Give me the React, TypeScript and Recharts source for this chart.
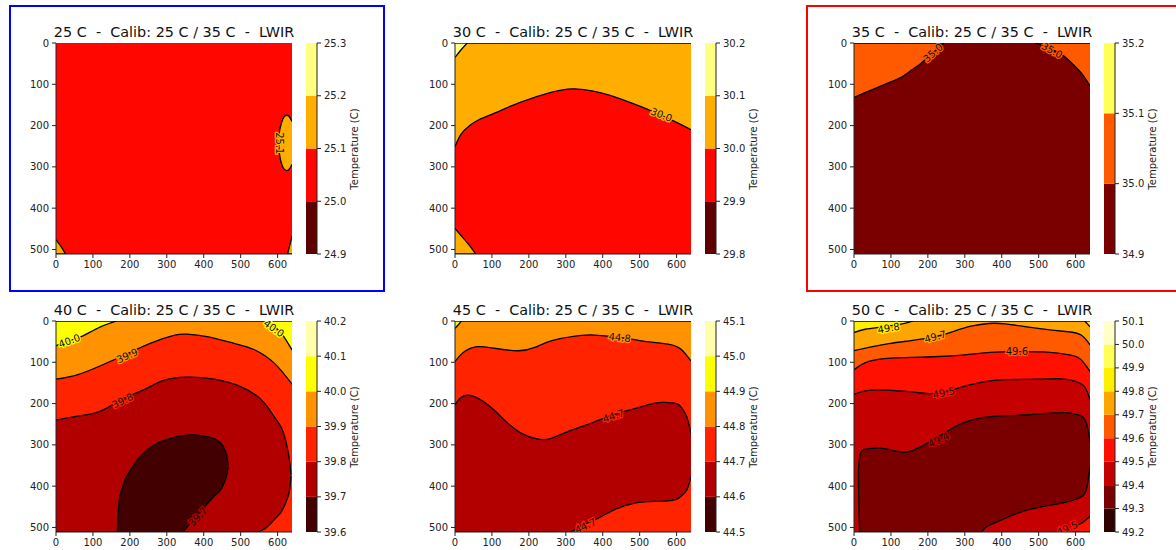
import React from 'react';
import { ComposedChart, Area, Line, Scatter, XAxis, YAxis } from 'recharts';

// [x, top row, bottom row] in image pixels; the image is 640 x 512
type Row = [number, number, number];
type Tag = { x: number; y: number; level: number; angle: number };

const FONT = '"DejaVu Sans", Verdana, sans-serif';
const INK = '#222';

const xTicks = [0, 100, 200, 300, 400, 500, 600];
const yTicks = [0, 100, 200, 300, 400, 500];
const wholeImage: Row[] = [[0, 0, 511], [639, 0, 511]];

// ---- 25 C ----
const levels25 = [24.9, 25.0, 25.1, 25.2, 25.3];
const warm25Spot: Row[] = [[603, 242, 242], [605, 216, 268], [609, 198, 287], [615, 183, 302], [620, 177, 307], [625, 175, 309], [630, 177, 307], [635, 183, 301], [639, 190, 294]];
const warm25CornerL: Row[] = [[0, 476, 511], [9, 487, 511], [18, 499, 511], [26, 511, 511]];
const warm25CornerR: Row[] = [[627, 511, 511], [633, 490, 511], [639, 468, 511]];
const tags25: Tag[] = [{ x: 605, y: 243, level: 25.1, angle: 90 }];

// ---- 30 C ----
const levels30 = [29.8, 29.9, 30.0, 30.1, 30.2];
const above300: Row[] = [[0, 0, 251], [17, 0, 220], [40, 0, 200], [62, 0, 187], [107, 0, 170], [150, 0, 153], [198, 0, 137], [250, 0, 122], [288, 0, 114], [324, 0, 111], [378, 0, 117], [420, 0, 127], [468, 0, 142], [520, 0, 160], [560, 0, 176], [604, 0, 194], [639, 0, 210]];
const above301: Row[] = [[0, 0, 35], [16, 0, 17], [33, 0, 0]];
const above300Corner: Row[] = [[0, 449, 511], [20, 470, 511], [40, 491, 511], [56, 511, 511]];
const tags30: Tag[] = [{ x: 559, y: 174, level: 30.0, angle: 22 }];

// ---- 35 C ----
const levels35 = [34.9, 35.0, 35.1, 35.2];
const above350L: Row[] = [[0, 0, 132], [25, 0, 122], [50, 0, 113], [103, 0, 93], [130, 0, 82], [157, 0, 65], [180, 0, 50], [198, 0, 36], [222, 0, 17], [243, 0, 0]];
const above350R: Row[] = [[491, 0, 0], [510, 0, 6], [530, 0, 14], [563, 0, 28], [599, 0, 57], [620, 0, 78], [639, 0, 104]];
const tags35: Tag[] = [{ x: 214, y: 24, level: 35.0, angle: -42 }, { x: 536, y: 18, level: 35.0, angle: 28 }];

// ---- 40 C ----
const levels40 = [39.6, 39.7, 39.8, 39.9, 40.0, 40.1, 40.2];
const below398: Row[] = [[0, 240, 511], [55, 231, 511], [119, 219, 511], [178, 190, 511], [237, 167, 511], [291, 144, 511], [355, 136, 511], [428, 141, 511], [500, 159, 511], [545, 182, 511], [555, 190, 508], [570, 205, 500], [591, 232, 481], [610, 258, 462], [622, 290, 440], [630, 325, 420], [634, 350, 398], [636, 372, 376]];
const below397: Row[] = [[166, 511, 511], [168, 470, 511], [173, 425, 511], [182, 398, 511], [191, 377, 511], [210, 350, 511], [228, 328, 511], [250, 310, 511], [273, 296, 511], [300, 287, 511], [328, 280, 511], [341, 278, 511], [350, 277, 504], [373, 276, 480], [400, 279, 453], [427, 284, 425], [445, 295, 410], [455, 308, 393], [462, 325, 375], [466, 350, 352]];
const above399: Row[] = [[0, 0, 141], [55, 0, 131], [119, 0, 109], [191, 0, 80], [255, 0, 54], [319, 0, 35], [355, 0, 32], [409, 0, 38], [482, 0, 54], [536, 0, 69], [591, 0, 102], [639, 0, 153]];
const above400L: Row[] = [[0, 0, 60], [40, 0, 47], [73, 0, 36], [119, 0, 15], [164, 0, 0]];
const above400R: Row[] = [[562, 0, 0], [590, 0, 13], [614, 0, 34], [639, 0, 70]];
const tags40: Tag[] = [
  { x: 36, y: 48, level: 40.0, angle: -20 },
  { x: 193, y: 84, level: 39.9, angle: -24 },
  { x: 180, y: 193, level: 39.8, angle: -26 },
  { x: 384, y: 474, level: 39.7, angle: -46 },
  { x: 590, y: 18, level: 40.0, angle: 36 },
];

// ---- 45 C ----
const levels45 = [44.5, 44.6, 44.7, 44.8, 44.9, 45.0, 45.1];
const below447: Row[] = [[0, 203, 511], [17, 185, 511], [44, 181, 511], [89, 203, 511], [134, 240, 511], [180, 272, 511], [225, 286, 511], [261, 284, 511], [310, 266, 511], [342, 256, 496], [378, 244, 482], [432, 226, 457], [487, 212, 441], [541, 199, 437], [568, 197, 436], [595, 199, 433], [610, 206, 426], [624, 225, 414], [632, 245, 400], [639, 272, 377]];
const above448: Row[] = [[0, 0, 98], [26, 0, 74], [62, 0, 62], [107, 0, 66], [171, 0, 72], [216, 0, 64], [270, 0, 46], [342, 0, 35], [378, 0, 34], [441, 0, 39], [504, 0, 48], [577, 0, 56], [613, 0, 69], [639, 0, 97]];
const above449: Row[] = [[0, 0, 18], [9, 0, 9], [17, 0, 0]];
const tags45: Tag[] = [
  { x: 446, y: 40, level: 44.8, angle: 7 },
  { x: 429, y: 230, level: 44.7, angle: -18 },
  { x: 353, y: 496, level: 44.7, angle: -25 },
];

// ---- 50 C ----
const levels50 = [49.2, 49.3, 49.4, 49.5, 49.6, 49.7, 49.8, 49.9, 50.0, 50.1];
const below494: Row[] = [[12, 360, 511], [15, 330, 511], [22, 314, 511], [40, 309, 511], [67, 308, 511], [100, 312, 511], [139, 318, 511], [180, 305, 511], [229, 280, 511], [292, 248, 511], [342, 235, 511], [356, 233, 500], [401, 230, 481], [473, 227, 457], [563, 222, 441], [600, 226, 432], [617, 231, 425], [630, 250, 405], [639, 290, 352]];
const below494Edge = [{ x: 12, y: 360 }, { x: 13, y: 440 }, { x: 16, y: 511 }];
const above495: Row[] = [[0, 0, 178], [40, 0, 168], [100, 0, 168], [160, 0, 172], [200, 0, 176], [243, 0, 172], [300, 0, 158], [360, 0, 146], [420, 0, 142], [500, 0, 141], [560, 0, 140], [600, 0, 146], [625, 0, 160], [639, 0, 190]];
const above495Corner: Row[] = [[586, 511, 511], [600, 498, 511], [620, 487, 511], [639, 473, 511]];
const above496: Row[] = [[0, 0, 118], [40, 0, 98], [100, 0, 90], [160, 0, 88], [230, 0, 86], [300, 0, 82], [370, 0, 76], [441, 0, 74], [510, 0, 75], [570, 0, 80], [610, 0, 90], [639, 0, 122]];
const above497: Row[] = [[0, 0, 72], [40, 0, 64], [94, 0, 55], [150, 0, 48], [220, 0, 38], [274, 0, 24], [320, 0, 12], [365, 0, 6], [410, 0, 7], [473, 0, 15], [536, 0, 22], [580, 0, 26], [615, 0, 34], [639, 0, 58]];
const above498L: Row[] = [[0, 0, 28], [30, 0, 20], [70, 0, 15], [110, 0, 10], [140, 0, 5], [160, 0, 0]];
const above498R: Row[] = [[625, 0, 0], [632, 0, 7], [639, 0, 14]];
const tags50: Tag[] = [
  { x: 94, y: 17, level: 49.8, angle: -10 },
  { x: 220, y: 38, level: 49.7, angle: -15 },
  { x: 441, y: 74, level: 49.6, angle: 0 },
  { x: 243, y: 174, level: 49.5, angle: -12 },
  { x: 229, y: 288, level: 49.4, angle: -25 },
  { x: 577, y: 502, level: 49.5, angle: -25 },
];

// plot-area corners on the page
const COLS = [56, 455, 854];
const ROWS = [43, 321];
const PLOT_W = 236;
const PLOT_H = 211;
const AXIS_W = 45;

type Panel = {
  title: string;
  col: number;
  row: number;
  levels: number[];
  base: number;
  frame?: string;
  regions: [number, Row[]][];
  edges?: { x: number; y: number }[][];
  tags: Tag[];
};

const panels: Panel[] = [
  { title: '25 C  -  Calib: 25 C / 35 C  -  LWIR', col: 0, row: 0, levels: levels25, base: 1, frame: '#0000ff',
    regions: [[2, warm25Spot], [2, warm25CornerL], [2, warm25CornerR]], tags: tags25 },
  { title: '30 C  -  Calib: 25 C / 35 C  -  LWIR', col: 1, row: 0, levels: levels30, base: 1,
    regions: [[2, above300], [3, above301], [2, above300Corner]], tags: tags30 },
  { title: '35 C  -  Calib: 25 C / 35 C  -  LWIR', col: 2, row: 0, levels: levels35, base: 0, frame: '#ff0000',
    regions: [[1, above350L], [1, above350R]], tags: tags35 },
  { title: '40 C  -  Calib: 25 C / 35 C  -  LWIR', col: 0, row: 1, levels: levels40, base: 2,
    regions: [[1, below398], [0, below397], [3, above399], [4, above400L], [4, above400R]], tags: tags40 },
  { title: '45 C  -  Calib: 25 C / 35 C  -  LWIR', col: 1, row: 1, levels: levels45, base: 2,
    regions: [[3, above448], [4, above449], [1, below447]], tags: tags45 },
  { title: '50 C  -  Calib: 25 C / 35 C  -  LWIR', col: 2, row: 1, levels: levels50, base: 2,
    regions: [[3, above495], [3, above495Corner], [4, above496], [5, above497], [6, above498L], [6, above498R], [1, below494]],
    edges: [below494Edge], tags: tags50 },
];

// matplotlib "hot" colormap
function hot(t: number) {
  const r = t < 0.365079 ? 0.0416 + (0.9584 * t) / 0.365079 : 1;
  const g = t < 0.365079 ? 0 : t < 0.746032 ? (t - 0.365079) / 0.380953 : 1;
  const b = t < 0.746032 ? 0 : (t - 0.746032) / 0.253968;
  const h = (v: number) => Math.round(Math.min(1, Math.max(0, v)) * 255).toString(16).padStart(2, '0');
  return `#${h(r)}${h(g)}${h(b)}`;
}

const bandColors = (levels: number[]) => {
  const n = levels.length - 1;
  return levels.slice(0, n).map((_, i) => hot((i + 0.5) / n));
};

const toArea = (rows: Row[]) => rows.map(([x, y0, y1]) => ({ x, v: [y0, y1] }));

const tickStyle = { fill: INK, fontSize: 10, fontFamily: FONT };

// inline contour label; the halo cuts the contour line under the text
const tagShape = (levels: number[], colors: string[]) => (props: any) => {
  const { cx, cy, payload } = props;
  const k = levels.findIndex((l) => Math.abs(l - payload.level) < 1e-6);
  const halo = colors[Math.min(colors.length - 1, Math.max(0, k))];
  return (
    <text
      x={cx}
      y={cy}
      transform={`rotate(${payload.angle} ${cx} ${cy})`}
      textAnchor="middle"
      dominantBaseline="central"
      fontFamily={FONT}
      fontSize={10}
      fill="#111"
      stroke={halo}
      strokeWidth={2.5}
      style={{ paintOrder: 'stroke' }}
    >
      {payload.level.toFixed(1)}
    </text>
  );
};

function ContourPlot({ p }: { p: Panel }) {
  const colors = bandColors(p.levels);
  const left = COLS[p.col];
  const top = ROWS[p.row];
  return (
    <div style={{ position: 'absolute', left: left - AXIS_W, top: top - 5 }}>
      <ComposedChart width={AXIS_W + PLOT_W + 5} height={PLOT_H + 35} margin={{ top: 5, right: 5, bottom: 0, left: 0 }}>
        <Area data={toArea(wholeImage)} dataKey="v" type="linear" fill={colors[p.base]} fillOpacity={1} stroke="none" isAnimationActive={false} />
        {p.regions.map(([band, rows], i) => (
          <Area
            key={i}
            data={toArea(rows)}
            dataKey="v"
            type="natural"
            fill={colors[band]}
            fillOpacity={1}
            stroke="#000"
            strokeWidth={1.3}
            isAnimationActive={false}
          />
        ))}
        {(p.edges || []).map((pts, i) => (
          <Line key={`e${i}`} data={pts} dataKey="y" type="natural" stroke="#000" strokeWidth={1.3} dot={false} isAnimationActive={false} />
        ))}
        <Scatter data={p.tags} dataKey="y" shape={tagShape(p.levels, colors)} isAnimationActive={false} />
        <XAxis dataKey="x" type="number" domain={[0, 639]} ticks={xTicks} interval={0} allowDataOverflow height={30}
          tickSize={4} tickMargin={3} stroke={INK} tick={tickStyle} />
        <YAxis type="number" domain={[0, 511]} reversed ticks={yTicks} interval={0} allowDataOverflow width={AXIS_W}
          tickSize={4} tickMargin={3} stroke={INK} tick={tickStyle} />
        <XAxis xAxisId="top" orientation="top" type="number" domain={[0, 639]} allowDataOverflow height={0}
          tick={false} tickLine={false} stroke={INK} />
        <YAxis yAxisId="right" orientation="right" type="number" domain={[0, 511]} allowDataOverflow width={0}
          tick={false} tickLine={false} stroke={INK} />
      </ComposedChart>
    </div>
  );
}

function ColorBar({ p }: { p: Panel }) {
  const colors = bandColors(p.levels);
  const lo = p.levels[0];
  const hi = p.levels[p.levels.length - 1];
  const left = COLS[p.col] + 250;
  const top = ROWS[p.row];
  return (
    <>
      <div style={{ position: 'absolute', left, top: top - 5 }}>
        <ComposedChart width={11 + 45 + 5} height={PLOT_H + 10} margin={{ top: 5, right: 5, bottom: 5, left: 0 }}>
          {colors.map((c, i) => (
            <Area
              key={i}
              data={[{ x: 0, v: [p.levels[i], p.levels[i + 1]] }, { x: 1, v: [p.levels[i], p.levels[i + 1]] }]}
              dataKey="v"
              type="linear"
              fill={c}
              fillOpacity={1}
              stroke="none"
              isAnimationActive={false}
            />
          ))}
          <XAxis dataKey="x" type="number" domain={[0, 1]} allowDataOverflow height={0} tick={false} tickLine={false} stroke={INK} />
          <XAxis xAxisId="top" orientation="top" type="number" domain={[0, 1]} allowDataOverflow height={0} tick={false} tickLine={false} stroke={INK} />
          <YAxis yAxisId="left" type="number" domain={[lo, hi]} allowDataOverflow width={0} tick={false} tickLine={false} stroke={INK} />
          <YAxis orientation="right" type="number" domain={[lo, hi]} allowDataOverflow ticks={p.levels} interval={0} width={45}
            tickFormatter={(v: number) => v.toFixed(1)} tickSize={4} tickMargin={3} stroke={INK} tick={tickStyle} />
        </ComposedChart>
      </div>
      <div
        style={{
          position: 'absolute',
          left: left + 11 + 38 - 100,
          top: top + PLOT_H / 2 - 7,
          width: 200,
          height: 14,
          lineHeight: '14px',
          textAlign: 'center',
          fontFamily: FONT,
          fontSize: 10,
          color: INK,
          transform: 'rotate(-90deg)',
        }}
      >
        Temperature (C)
      </div>
    </>
  );
}

export default function App() {
  return (
    <div style={{ position: 'absolute', left: 0, top: 0, width: 1176, height: 550, overflow: 'hidden', background: '#fff' }}>
      {panels.map((p, i) => {
        const left = COLS[p.col];
        const top = ROWS[p.row];
        return (
          <React.Fragment key={i}>
            {p.frame && (
              <div style={{ position: 'absolute', left: p.col === 2 ? 806 : 9, top: 5, width: 372, height: 283, border: `2px solid ${p.frame}` }} />
            )}
            <div
              style={{
                position: 'absolute',
                left: left - 40,
                top: top - 19,
                width: PLOT_W + 80,
                lineHeight: '16px',
                textAlign: 'center',
                whiteSpace: 'pre',
                fontFamily: FONT,
                fontSize: 14.4,
                color: '#111',
              }}
            >
              {p.title}
            </div>
            <ContourPlot p={p} />
            <ColorBar p={p} />
          </React.Fragment>
        );
      })}
    </div>
  );
}
